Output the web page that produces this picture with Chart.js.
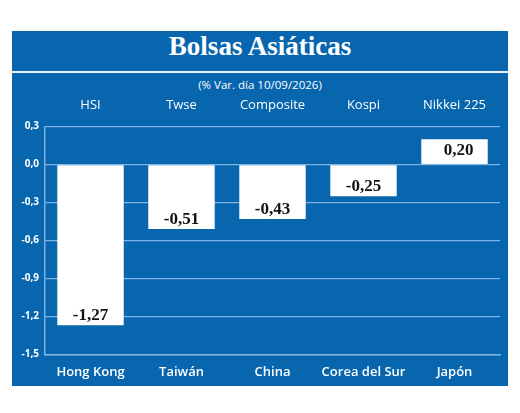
<!DOCTYPE html>
<html><head><meta charset="utf-8">
<script src="https://cdn.jsdelivr.net/npm/chart.js@4/dist/chart.umd.min.js"></script>
<style>
body{margin:0;background:#fff;width:520px;height:413px;position:relative;font-family:"Open Sans",sans-serif}
#panel{position:absolute;left:12px;top:31px;width:496px;height:355px;background:#0766ae}
#title{position:absolute;left:0;top:0;width:496px;height:40px;line-height:40px;text-align:center;color:#fff;font:bold 27px "Liberation Serif",serif;border-bottom:2px solid #e8f0f8}
#sub{position:absolute;left:0;top:46px;width:496px;text-align:center;color:#fff;font-size:11.5px}
#wrap{position:absolute;left:0;top:60px;width:496px;height:295px}
</style></head><body>
<div id="panel">
  <div id="title">Bolsas Asiáticas</div>
  <div id="sub">(% Var. día 10/09/2026)</div>
  <div id="wrap"><canvas id="c"></canvas></div>
</div>
<script>
const countries = ['Hong Kong', 'Taiwán', 'China', 'Corea del Sur', 'Japón'];
const indices = ['HSI', 'Twse', 'Composite', 'Kospi', 'Nikkei 225'];
const changes = [-1.27, -0.51, -0.43, -0.25, 0.20];

const fmt = v => v.toFixed(2).replace('.', ',');

const valueLabels = {
  id: 'valueLabels',
  afterDatasetsDraw(chart) {
    const ctx = chart.ctx;
    const meta = chart.getDatasetMeta(0);
    ctx.save();
    ctx.fillStyle = '#111';
    ctx.font = 'bold 17px "Liberation Serif", serif';
    ctx.textAlign = 'center';
    meta.data.forEach((bar, i) => {
      const v = changes[i];
      if (v < 0) {
        ctx.textBaseline = 'bottom';
        ctx.fillText(fmt(v), bar.x, bar.y - 1);
      } else {
        ctx.textBaseline = 'top';
        ctx.fillText(fmt(v), bar.x + 4, bar.y + 3);
      }
    });
    ctx.restore();
  }
};

new Chart(document.getElementById('c'), {
  type: 'bar',
  data: {
    labels: countries,
    datasets: [{
      data: changes,
      backgroundColor: '#ffffff',
      barPercentage: 0.73,
      categoryPercentage: 1
    }]
  },
  options: {
    responsive: true,
    maintainAspectRatio: false,
    animation: false,
    layout: { padding: { left: 2, right: 8, top: 0, bottom: 4 } },
    plugins: { legend: { display: false }, tooltip: { enabled: false } },
    scales: {
      x: {
        grid: { display: false },
        border: { color: '#7fb3e3', width: 1.5 },
        ticks: { color: '#fff', font: { family: 'Open Sans', size: 13, weight: '600' }, padding: 2 }
      },
      x2: {
        position: 'top',
        type: 'category',
        labels: indices,
        grid: { display: false },
        border: { display: false },
        ticks: { color: '#fff', font: { family: 'Open Sans', size: 13 }, padding: 6 }
      },
      y: {
        min: -1.5,
        max: 0.3,
        afterFit(s) { s.width = 31; },
        ticks: {
          stepSize: 0.3,
          color: '#fff',
          font: { family: 'Open Sans', size: 10, weight: 'bold' },
          callback: v => v.toFixed(1).replace('.', ','),
          padding: 6
        },
        grid: { color: '#7fb3e3', lineWidth: 1.2, drawTicks: false },
        border: { color: '#7fb3e3', width: 1.5 }
      }
    }
  },
  plugins: [valueLabels]
});
</script>
</body></html>
